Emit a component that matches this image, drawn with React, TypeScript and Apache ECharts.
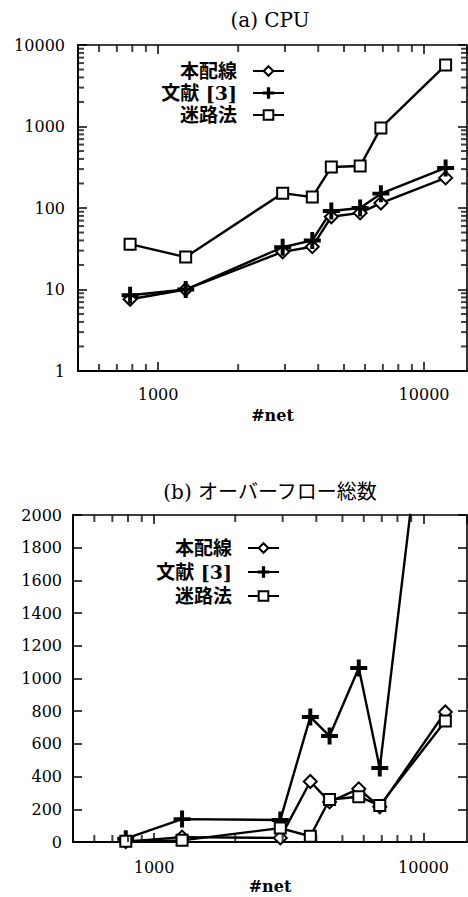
import React, { useEffect, useRef } from "react";
import * as echarts from "echarts";

// ---- data ----
const nets = [785, 1270, 2940, 3800, 4480, 5750, 6880, 12050];
const seriesNames = ["本配線", "文献 [3]", "迷路法"];

// (a) CPU
const cpuHon = [7.6, 10, 29, 33.5, 78, 87, 115, 234];
const cpuRef3 = [8.5, 10, 33, 40, 92, 100, 150, 310];
const cpuMaze = [36, 25, 152, 136, 318, 327, 960, 5680];

// (b) overflow total
const ovHon = [2, 30, 25, 370, 245, 325, 215, 795];
const ovRef3 = [20, 140, 135, 765, 648, 1064, 452, 3800];
const ovMaze = [5, 10, 85, 35, 260, 277, 224, 740];

// minor tick positions of the log axes
const xMinorTicks = [600, 700, 800, 900, 2000, 3000, 4000, 5000, 6000, 7000, 8000, 9000];
const cpuYMinorTicks = [
  2, 3, 4, 5, 6, 7, 8, 9,
  20, 30, 40, 50, 60, 70, 80, 90,
  200, 300, 400, 500, 600, 700, 800, 900,
  2000, 3000, 4000, 5000, 6000, 7000, 8000, 9000,
];

const titles = ["(a) CPU", "(b) オーバーフロー総数"];
const xName = "#net";

const X_MIN = 500;
const X_MAX = 14500;

const FONT = "'DejaVu Serif', 'Noto Sans CJK JP', serif";
const PLUS = "path://M4.35,0H5.65V4.35H10V5.65H5.65V10H4.35V5.65H0V4.35H4.35Z";
const VBAR = "path://M0,0H1V10H0Z";
const HBAR = "path://M0,0H10V1H0Z";

const isPow10 = (v: number) => {
  const l = Math.log10(v);
  return Math.abs(l - Math.round(l)) < 1e-6;
};

function buildOption(): any {
  const mkLine = (name: string, vals: number[], symbol: string, size: number, gi: number) => ({
    type: "line",
    name,
    xAxisIndex: gi * 2,
    yAxisIndex: gi * 2,
    data: nets.map((x, i) => [x, vals[i]]),
    symbol,
    symbolSize: size,
    showAllSymbol: true,
    clip: true,
    lineStyle: { color: "#000", width: 2.4 },
    itemStyle: { color: "#000", borderColor: "#000", borderWidth: 2 },
    emphasis: { disabled: true },
    z: 3,
  });

  // minor ticks: small bar symbols placed on the axes through their scales
  const tickMarks = (gi: number, pts: number[][], symbol: string, size: number[], offset: number[], id: string) => ({
    type: "scatter",
    name: id,
    xAxisIndex: gi * 2,
    yAxisIndex: gi * 2,
    data: pts,
    symbol,
    symbolSize: size,
    symbolOffset: offset,
    silent: true,
    clip: false,
    z: 5,
    itemStyle: { color: "#111" },
  });

  const labelStyle = { fontFamily: FONT, fontSize: 16, color: "#000" };

  const xAxisFor = (gi: number, pos: "bottom" | "top") => ({
    type: "log",
    logBase: 10,
    gridIndex: gi,
    position: pos,
    min: X_MIN,
    max: X_MAX,
    axisLine: { show: true, onZero: false, lineStyle: { color: "#000", width: pos === "bottom" ? 2 : 1.6 } },
    axisTick: { show: true, inside: true, length: 9, lineStyle: { color: "#000", width: 1.5 } },
    axisLabel:
      pos === "bottom"
        ? {
            show: true,
            ...labelStyle,
            margin: gi === 0 ? 15 : 17,
            showMinLabel: false,
            showMaxLabel: false,
            formatter: (v: number) => (isPow10(v) ? String(Math.round(v)) : ""),
          }
        : { show: false },
    splitLine: { show: false },
    name: pos === "bottom" ? xName : "",
    nameLocation: "middle",
    nameGap: 36,
    nameTextStyle: { ...labelStyle, fontWeight: "bold" },
  });

  const yLogFor = (pos: "left" | "right") => ({
    type: "log",
    logBase: 10,
    gridIndex: 0,
    position: pos,
    min: 1,
    max: 10000,
    axisLine: { show: true, onZero: false, lineStyle: { color: "#000", width: pos === "left" ? 2 : 1.6 } },
    axisTick: { show: true, inside: true, length: 9, lineStyle: { color: "#000", width: 1.5 } },
    axisLabel:
      pos === "left"
        ? { show: true, ...labelStyle, margin: 13, formatter: (v: number) => String(Math.round(v)) }
        : { show: false },
    splitLine: { show: false },
  });

  const yValFor = (pos: "left" | "right") => ({
    type: "value",
    gridIndex: 1,
    position: pos,
    min: 0,
    max: 2000,
    interval: 200,
    axisLine: { show: true, onZero: false, lineStyle: { color: "#000", width: pos === "left" ? 2 : 1.6 } },
    axisTick: { show: true, inside: true, length: 9, lineStyle: { color: "#000", width: 1.5 } },
    axisLabel:
      pos === "left"
        ? { show: true, ...labelStyle, margin: 11, formatter: (v: number) => String(Math.round(v)) }
        : { show: false },
    splitLine: { show: false },
  });

  const legendFor = (right: number, top: number, gap: number) => ({
    data: seriesNames,
    orient: "vertical",
    right,
    top,
    align: "right",
    itemWidth: 31,
    itemHeight: 12,
    itemGap: gap,
    selectedMode: false,
    textStyle: {
      fontFamily: FONT,
      fontSize: 19,
      fontWeight: "bold",
      lineHeight: 20,
      color: "#000",
      padding: [0, 11, 0, 0],
    },
  });

  return {
    animation: false,
    backgroundColor: "#fff",
    grid: [
      { left: 78, top: 45, width: 389, height: 326, outerBoundsMode: "none", containLabel: false },
      { left: 73, top: 515, width: 394, height: 327, outerBoundsMode: "none", containLabel: false },
    ],
    xAxis: [xAxisFor(0, "bottom"), xAxisFor(0, "top"), xAxisFor(1, "bottom"), xAxisFor(1, "top")],
    yAxis: [yLogFor("left"), yLogFor("right"), yValFor("left"), yValFor("right")],
    legend: [legendFor(178, 56, 2), legendFor(183, 533, 4)],
    graphic: [
      {
        type: "text",
        x: 270,
        y: 20,
        style: { text: titles[0], align: "center", verticalAlign: "middle", fontFamily: FONT, fontSize: 20, fill: "#000" },
      },
      {
        type: "text",
        x: 270,
        y: 492,
        style: { text: titles[1], align: "center", verticalAlign: "middle", fontFamily: FONT, fontSize: 20, fill: "#000" },
      },
    ],
    series: [
      mkLine(seriesNames[0], cpuHon, "emptyDiamond", 13, 0),
      mkLine(seriesNames[1], cpuRef3, PLUS, 15, 0),
      mkLine(seriesNames[2], cpuMaze, "emptyRect", 11, 0),
      mkLine(seriesNames[0], ovHon, "emptyDiamond", 13, 1),
      mkLine(seriesNames[1], ovRef3, PLUS, 15, 1),
      mkLine(seriesNames[2], ovMaze, "emptyRect", 11, 1),
      // (a) minor ticks: bottom, top, left, right
      tickMarks(0, xMinorTicks.map((v) => [v, 1]), VBAR, [2, 7], [0, -3.5], "tick-a-b"),
      tickMarks(0, xMinorTicks.map((v) => [v, 10000]), VBAR, [2, 7], [0, 3.5], "tick-a-t"),
      tickMarks(0, cpuYMinorTicks.map((v) => [X_MIN, v]), HBAR, [6, 2], [3, 0], "tick-a-l"),
      tickMarks(0, cpuYMinorTicks.map((v) => [X_MAX, v]), HBAR, [6, 2], [-3, 0], "tick-a-r"),
      // (b) minor ticks: bottom, top
      tickMarks(1, xMinorTicks.map((v) => [v, 0]), VBAR, [2, 7], [0, -3.5], "tick-b-b"),
      tickMarks(1, xMinorTicks.map((v) => [v, 2000]), VBAR, [2, 7], [0, 3.5], "tick-b-t"),
    ],
  };
}

export default function App() {
  const ref = useRef<HTMLDivElement>(null);
  useEffect(() => {
    if (!ref.current) return;
    const chart = echarts.init(ref.current, undefined, { renderer: "svg" });
    chart.setOption(buildOption());
    return () => chart.dispose();
  }, []);
  return (
    <div
      ref={ref}
      style={{ position: "fixed", left: 0, top: 0, width: 468, height: 897, background: "#fff" }}
    />
  );
}
